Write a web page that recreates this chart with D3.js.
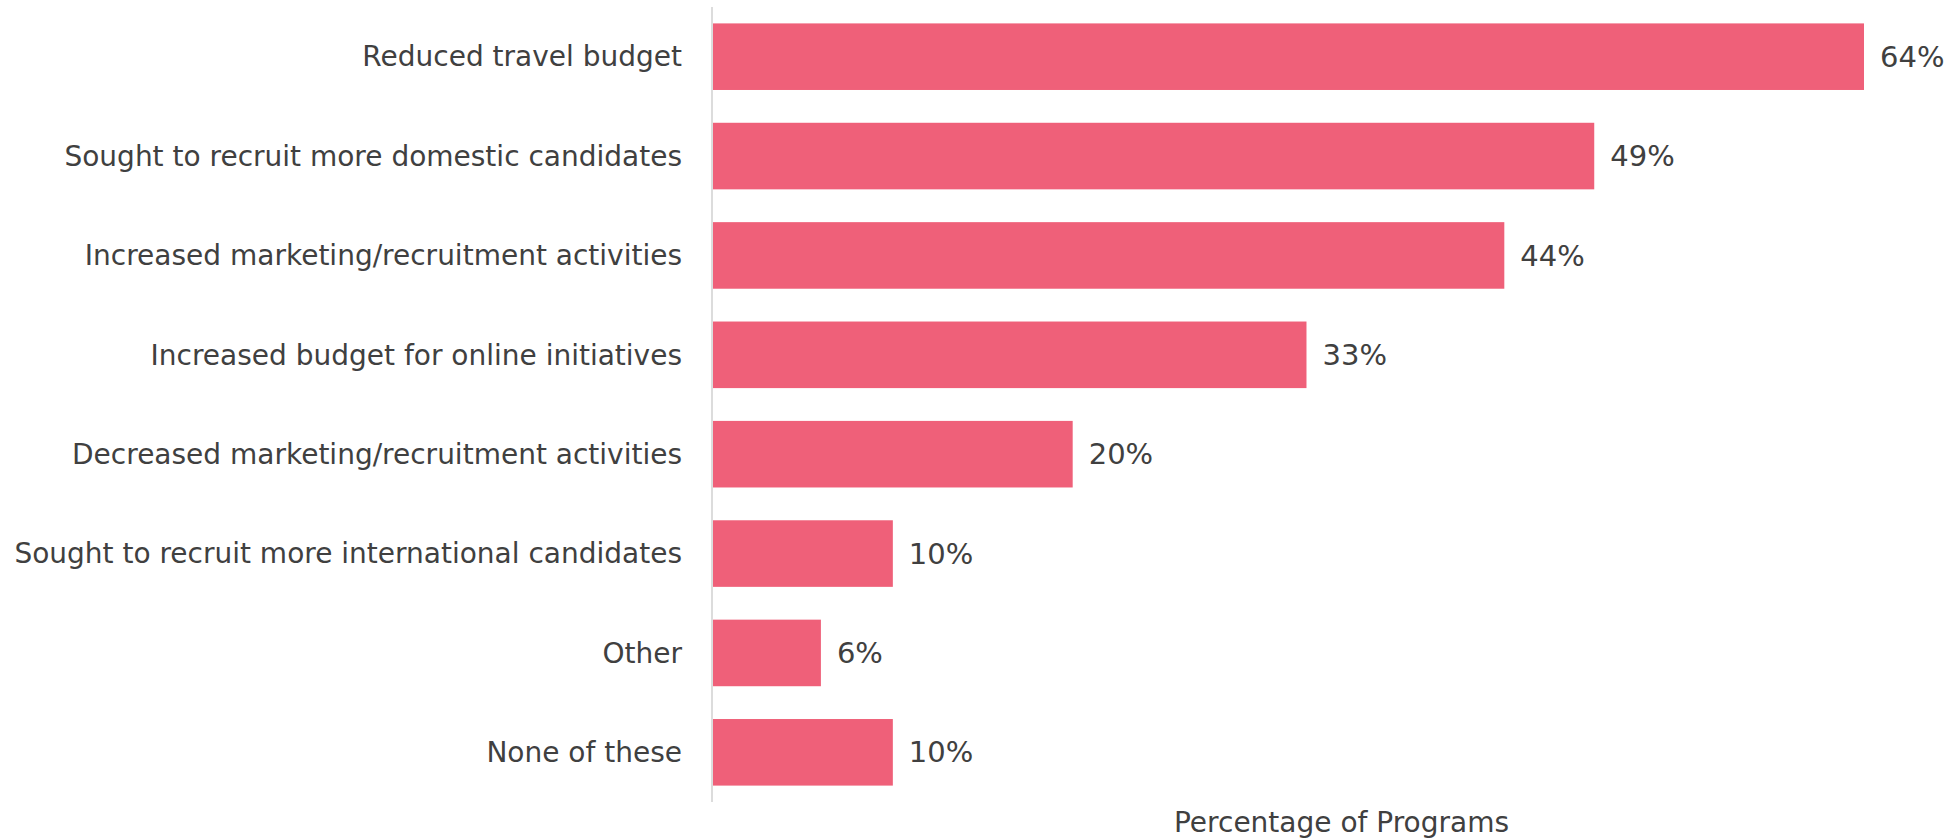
<!DOCTYPE html>
<html>
<head>
<meta charset="utf-8">
<script src="https://cdn.jsdelivr.net/npm/d3@7"></script>
<style>
  body { margin: 0; background: #fff; }
  text { font-family: "DejaVu Sans", sans-serif; fill: #404040; }
</style>
</head>
<body>
<svg id="chart"></svg>
<script>
const categories = [
  "Reduced travel budget",
  "Sought to recruit more domestic candidates",
  "Increased marketing/recruitment activities",
  "Increased budget for online initiatives",
  "Decreased marketing/recruitment activities",
  "Sought to recruit more international candidates",
  "Other",
  "None of these"
];
const values = [64, 49, 44, 33, 20, 10, 6, 10];
const axisTitle = "Percentage of Programs";

const config = {
  width: 1958,
  height: 839,
  margin: {top: 7, right: 94, bottom: 37, left: 713}
};

const width = config.width - config.margin.left - config.margin.right;
const height = config.height - config.margin.top - config.margin.bottom;

const data = categories.map((c, i) => ({category: c, value: values[i]}));

const svg = d3.select('#chart')
    .attr('width', config.width)
    .attr('height', config.height);

const chart = svg.append('g')
    .attr('transform', `translate(${config.margin.left},${config.margin.top})`);

const xScale = d3.scaleLinear()
    .domain([0, d3.max(values)])
    .range([0, 1151]);

const yScale = d3.scaleBand()
    .domain(categories)
    .range([0, height])
    .paddingInner(0.33)
    .paddingOuter(0.165);

// bars
chart.selectAll('.bar')
    .data(data)
  .join('rect')
    .attr('class', 'bar')
    .attr('x', 0)
    .attr('y', d => yScale(d.category))
    .attr('width', d => xScale(d.value))
    .attr('height', yScale.bandwidth())
    .attr('fill', '#ef6079');

// y axis line
chart.append('line')
    .attr('x1', -1).attr('x2', -1)
    .attr('y1', 0).attr('y2', height)
    .attr('stroke', '#dcdcdc')
    .attr('stroke-width', 2);

// category labels
chart.selectAll('.cat-label')
    .data(data)
  .join('text')
    .attr('class', 'cat-label')
    .attr('x', -31)
    .attr('y', d => yScale(d.category) + yScale.bandwidth() / 2)
    .attr('dy', '0.35em')
    .attr('text-anchor', 'end')
    .style('font-size', '28px')
    .text(d => d.category);

// value labels
chart.selectAll('.val-label')
    .data(data)
  .join('text')
    .attr('class', 'val-label')
    .attr('x', d => xScale(d.value) + 16)
    .attr('y', d => yScale(d.category) + yScale.bandwidth() / 2)
    .attr('dy', '0.35em')
    .style('font-size', '29px')
    .text(d => d.value + '%');

// x axis title
chart.append('text')
    .attr('class', 'xlabel')
    .attr('text-anchor', 'middle')
    .attr('x', (config.width - config.margin.left + 12) / 2)
    .attr('y', height + 30)
    .style('font-size', '28px')
    .text(axisTitle);
</script>
</body>
</html>
